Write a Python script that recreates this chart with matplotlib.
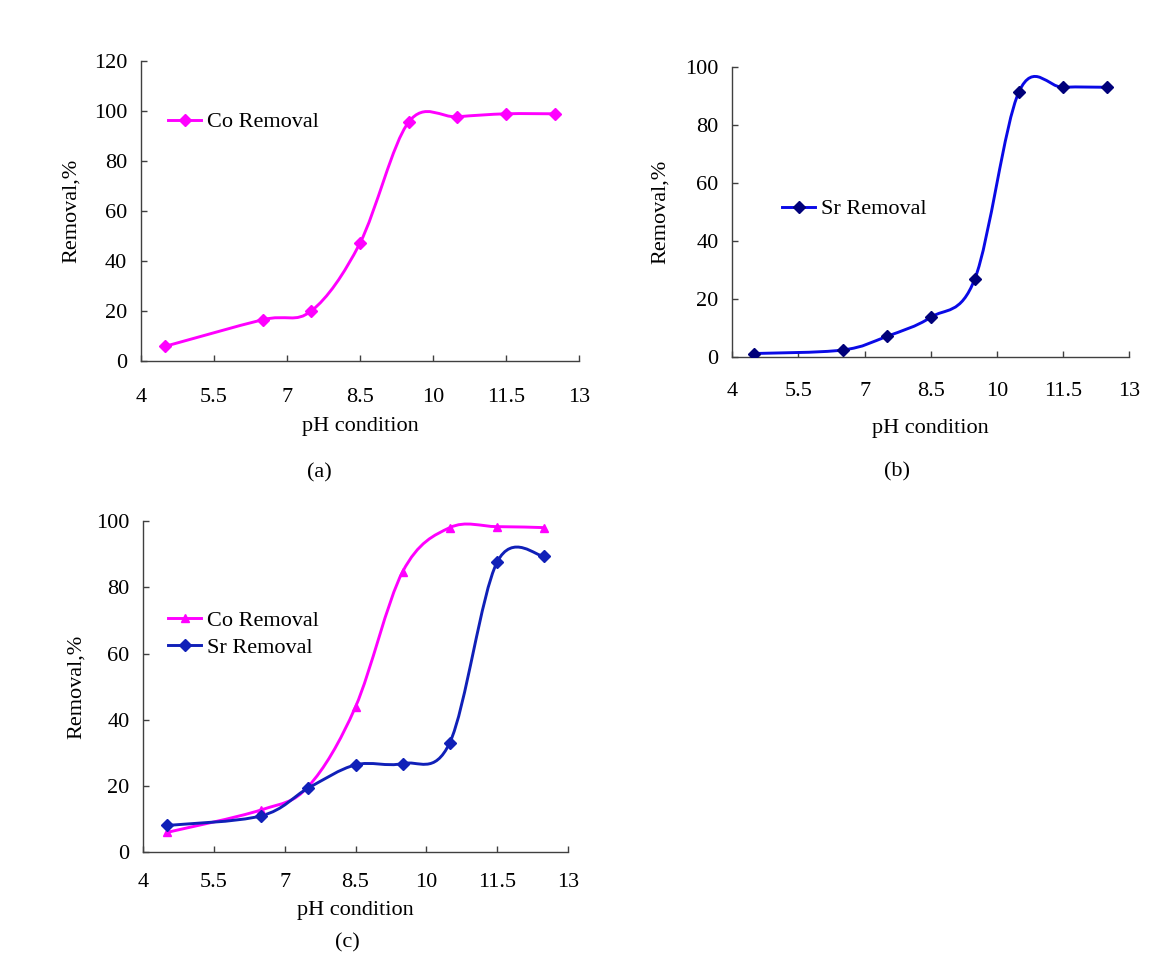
import numpy as np
import matplotlib
matplotlib.use("Agg")
import matplotlib.pyplot as plt
from matplotlib.path import Path
from matplotlib.patches import PathPatch
from matplotlib.lines import Line2D

# pH values and removal (%)
ph = [4.5, 6.5, 7.5, 8.5, 9.5, 10.5, 11.5, 12.5]
co_a = [6.0, 16.6, 20.1, 47.2, 95.5, 97.6, 98.8, 98.8]
sr_b = [1.1, 2.3, 7.0, 13.6, 26.9, 91.4, 92.9, 92.9]
co_c = [6.0, 12.8, 19.9, 43.9, 84.7, 98.0, 98.3, 98.0]
sr_c = [8.1, 11.0, 19.4, 26.4, 26.8, 33.1, 87.5, 89.4]
xticks = [4, 5.5, 7, 8.5, 10, 11.5, 13]
xtick_labels = ["4", "5.5", "7", "8.5", "10", "11.5", "13"]

MAGENTA = "#ff00ff"
BLUE = "#0a0ae6"
NAVY = "#00007a"
SR_C = "#1020b8"

plt.rcParams['font.family'] = ['Liberation Serif', 'DejaVu Serif']
FS = 16
W, H = 1173, 977


def smooth_path(x, y):
    # excel style smoothed line: catmull-rom control points -> cubic bezier
    pts = np.column_stack([np.asarray(x, float), np.asarray(y, float)])
    n = len(pts)
    verts = [pts[0]]
    codes = [Path.MOVETO]
    for i in range(n - 1):
        p0 = pts[max(i - 1, 0)]
        p1 = pts[i]
        p2 = pts[i + 1]
        p3 = pts[min(i + 2, n - 1)]
        verts += [p1 + (p2 - p0) / 6, p2 - (p3 - p1) / 6, p2]
        codes += [Path.CURVE4] * 3
    return Path(verts, codes)


def series(ax, x, y, lc, mc, marker, ms):
    ax.add_patch(PathPatch(smooth_path(x, y), facecolor="none", edgecolor=lc,
                           lw=2.1, capstyle="round", joinstyle="round",
                           transform=ax.transData, zorder=2))
    ax.plot(x, y, ls="none", marker=marker, ms=ms, color=mc, zorder=3)
    return Line2D([], [], color=lc, lw=2.1, marker=marker, ms=ms, mfc=mc, mec=mc)


def make_axes(box, ymax, xlab_y, ylab_x, xpad):
    l, r, t, b = box
    ax = fig.add_axes([l / W, 1 - b / H, (r - l) / W, (b - t) / H])
    ax.set_xlim(4, 13)
    ax.set_ylim(0, ymax)
    ax.set_xticks(xticks)
    ax.set_xticklabels(xtick_labels)
    ax.set_yticks(np.arange(0, ymax + 1, 20))
    for s in ["top", "right"]:
        ax.spines[s].set_visible(False)
    for s in ["left", "bottom"]:
        ax.spines[s].set_color("#404040")
        ax.spines[s].set_linewidth(1.0)
    ax.tick_params(direction="in", length=4.5, width=1, color="#404040",
                   labelsize=FS)
    ax.tick_params(axis="x", pad=xpad)
    ax.tick_params(axis="y", pad=10)
    ax.set_xlabel("pH condition", fontsize=FS)
    ax.set_ylabel("Removal,%", fontsize=FS)
    ax.xaxis.set_label_coords(0.5, (b - xlab_y) / (b - t))
    ax.xaxis.label.set_va("center")
    ax.yaxis.set_label_coords((ylab_x - l) / (r - l), 0.5)
    ax.yaxis.label.set_va("center")
    return ax


def legend(ax, handles, labels, x, y):
    ax.legend(handles, labels, loc="center left", bbox_to_anchor=(x / W, 1 - y / H),
              bbox_transform=fig.transFigure, frameon=False, borderpad=0,
              borderaxespad=0, handlelength=1.5, handletextpad=0.25,
              labelspacing=0.3, fontsize=FS)


fig = plt.figure(figsize=(11.73, 9.77), dpi=100)

# (a)
ax1 = make_axes((141, 579, 60.7, 361.3), 120, 427, 71, 19)
h = series(ax1, ph, co_a, MAGENTA, MAGENTA, "D", 6)
legend(ax1, [h], ["Co Removal"], 168, 122)
fig.text(319 / W, 1 - 473 / H, "(a)", ha="center", va="center", fontsize=FS)

# (b)
ax2 = make_axes((732.3, 1129.3, 66.7, 356.7), 100, 428, 660, 18)
h = series(ax2, ph, sr_b, BLUE, NAVY, "D", 6)
legend(ax2, [h], ["Sr Removal"], 782, 209)
fig.text(897 / W, 1 - 472 / H, "(b)", ha="center", va="center", fontsize=FS)

# (c)
ax3 = make_axes((143.3, 567.7, 521, 852.3), 100, 911, 76, 15)
h1 = series(ax3, ph, co_c, MAGENTA, MAGENTA, "^", 6)
h2 = series(ax3, ph, sr_c, SR_C, SR_C, "D", 6)
legend(ax3, [h1, h2], ["Co Removal", "Sr Removal"], 168, 634)
fig.text(347 / W, 1 - 943 / H, "(c)", ha="center", va="center", fontsize=FS)

fig.savefig("out.png", dpi=100)
